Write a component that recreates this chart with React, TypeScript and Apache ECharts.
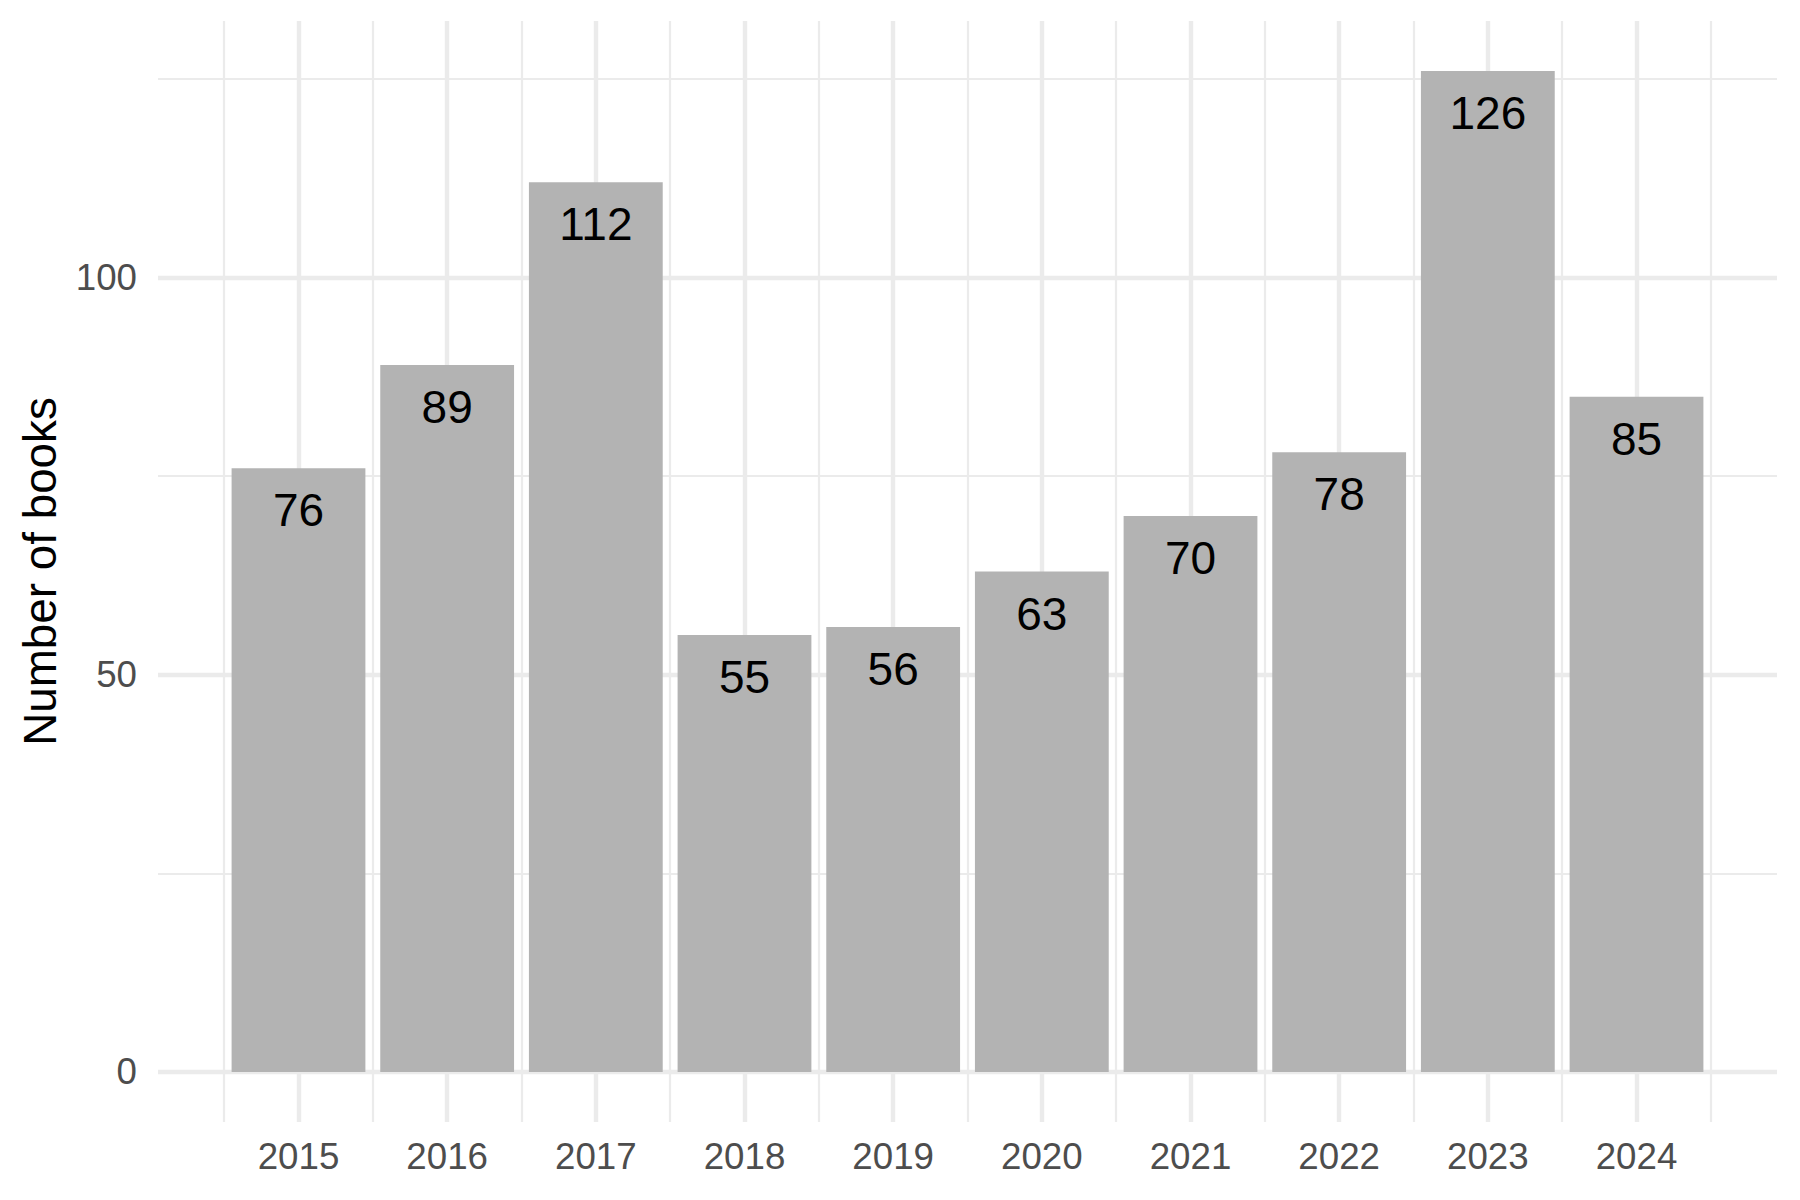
import React, { useEffect, useRef } from "react";
import * as echarts from "echarts";

const years = [2015, 2016, 2017, 2018, 2019, 2020, 2021, 2022, 2023, 2024];
const counts = [76, 89, 112, 55, 56, 63, 70, 78, 126, 85];
const yTicks = [0, 50, 100];
const yMinorTicks = [25, 75, 125];
const xMinorTicks = [2014.5, 2015.5, 2016.5, 2017.5, 2018.5, 2019.5, 2020.5, 2021.5, 2022.5, 2023.5, 2024.5];

const FONT = "'Liberation Sans', Arial, Helvetica, sans-serif";
const GRID = "#EBEBEB";

export default function App() {
  const ref = useRef<HTMLDivElement>(null);
  useEffect(() => {
    if (!ref.current) return;
    const chart = echarts.init(ref.current, null, { renderer: "svg" });
    // ggplot-like expansion
    const xMinB = years[0] - 0.45;
    const xMaxB = years[years.length - 1] + 0.45;
    const xPad = (xMaxB - xMinB) * 0.05;
    const yMaxV = Math.max(...counts);
    const yPad = yMaxV * 0.05;
    const gridLeft = 158;
    const gridRight = 23;
    const plotW = 1800 - gridLeft - gridRight;
    const unitPx = plotW / (xMaxB - xMinB + 2 * xPad);

    const major = { color: GRID, width: 4.4, type: "solid" as const };
    const minor = { color: GRID, width: 2.2, type: "solid" as const };
    const gridLines = [
      ...yMinorTicks.map((v) => ({ yAxis: v, lineStyle: minor })),
      ...yTicks.map((v) => ({ yAxis: v, lineStyle: major })),
      ...xMinorTicks.map((v) => ({ xAxis: v, lineStyle: minor })),
      ...years.map((v) => ({ xAxis: v, lineStyle: major })),
    ];

    chart.setOption({
      animation: false,
      backgroundColor: "#FFFFFF",
      textStyle: { fontFamily: FONT },
      grid: { left: gridLeft, right: gridRight, top: 21, bottom: 78, containLabel: false },
      xAxis: {
        type: "value",
        min: xMinB - xPad,
        max: xMaxB + xPad,
        axisLine: { show: false },
        axisTick: { show: false },
        splitLine: { show: false },
        axisLabel: {
          customValues: years,
          formatter: (v: number) => String(Math.round(v)),
          color: "#4D4D4D",
          fontSize: 36.7,
          fontFamily: FONT,
          margin: 16,
        },
      },
      yAxis: {
        type: "value",
        min: -yPad,
        max: yMaxV + yPad,
        axisLine: { show: false },
        axisTick: { show: false },
        splitLine: { show: false },
        axisLabel: {
          customValues: yTicks,
          formatter: (v: number) => String(Math.round(v)),
          color: "#4D4D4D",
          fontSize: 36.7,
          fontFamily: FONT,
          margin: 21,
        },
        name: "Number of books",
        nameLocation: "middle",
        nameGap: 95,
        nameTextStyle: { color: "#000000", fontSize: 45.8, fontFamily: FONT },
      },
      series: [
        {
          type: "line",
          data: [],
          z: 0,
          silent: true,
          markLine: {
            silent: true,
            z: 0,
            symbol: ["none", "none"],
            label: { show: false },
            animation: false,
            data: gridLines,
          },
        },
        {
          type: "bar",
          z: 3,
          barWidth: 0.9 * unitPx,
          data: years.map((y, i) => [y, counts[i]]),
          itemStyle: { color: "#B3B3B3" },
          label: {
            show: true,
            position: "insideTop",
            distance: 19,
            color: "#000000",
            fontSize: 46,
            lineHeight: 46,
            fontFamily: FONT,
            formatter: (p: any) => String(p.value[1]),
          },
        },
      ],
    });
    return () => chart.dispose();
  }, []);
  return (
    <div
      ref={ref}
      style={{ position: "fixed", left: 0, top: 0, width: 1800, height: 1200, background: "#fff" }}
    />
  );
}
